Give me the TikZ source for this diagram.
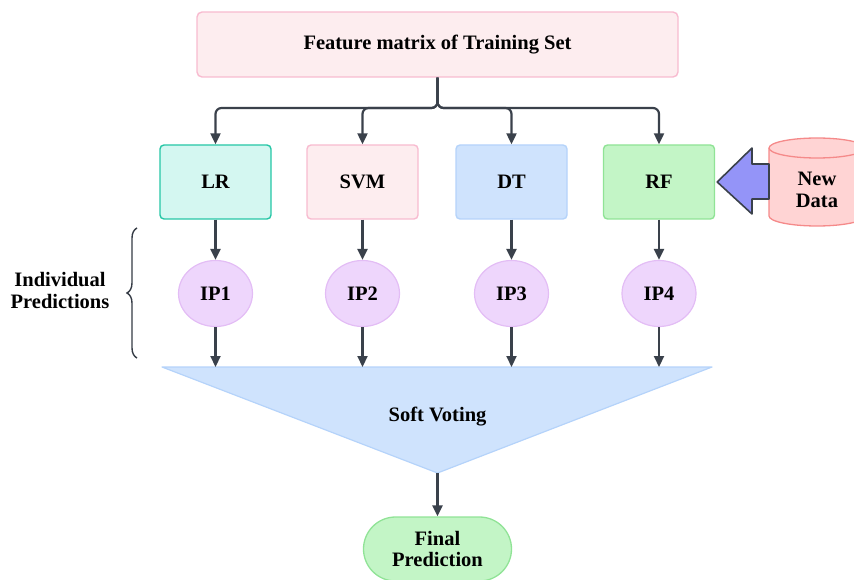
\documentclass[tikz,border=0pt]{standalone}
\usepackage{fontspec}
\setmainfont{Liberation Serif}
\usetikzlibrary{arrows.meta,shapes.geometric,decorations.pathreplacing}

\definecolor{pinkfill}{HTML}{FDEDEF}
\definecolor{pinkline}{HTML}{F8BBD0}
\definecolor{tealfill}{HTML}{D4F7F1}
\definecolor{tealline}{HTML}{26C6A6}
\definecolor{bluefill}{HTML}{CFE3FD}
\definecolor{blueline}{HTML}{B5D3FA}
\definecolor{greenfill}{HTML}{C3F5C6}
\definecolor{greenline}{HTML}{90E396}
\definecolor{lavfill}{HTML}{EED6FC}
\definecolor{lavline}{HTML}{E3BDF5}
\definecolor{cylfill}{HTML}{FFD4D4}
\definecolor{cylline}{HTML}{F58A8A}
\definecolor{bigarrow}{HTML}{9494F8}
\definecolor{ink}{HTML}{3A414B}

\tikzset{
  lbl/.style={font=\bfseries\fontsize{20.5}{21.5}\selectfont, text=black, align=center},
  model/.style={lbl, rectangle, rounded corners=4pt, line width=1.4pt,
                minimum width=111pt, minimum height=74pt},
  pred/.style={lbl, ellipse, line width=1.2pt, fill=lavfill, draw=lavline,
               inner sep=0pt, minimum width=74pt, minimum height=66pt},
  arr/.style={draw=ink, line width=2.2pt,
              -{Triangle[length=11pt,width=10pt]}},
}

\begin{document}
\begin{tikzpicture}[x=1pt,y=-1pt]
\useasboundingbox (0,0) rectangle (854,580);

% training data
\node[lbl, rectangle, rounded corners=5pt, line width=1.4pt, fill=pinkfill, draw=pinkline,
      minimum width=481pt, minimum height=65pt] (top) at (437.5,44.5) {Feature matrix of Training Set};

% base models
\node[model, fill=tealfill,  draw=tealline]  (lr)  at (215.5,182) {LR};
\node[model, fill=pinkfill,  draw=pinkline]  (svm) at (362.5,182) {SVM};
\node[model, fill=bluefill,  draw=blueline]  (dt)  at (511.5,182) {DT};
\node[model, fill=greenfill, draw=greenline] (rf)  at (659,182) {RF};

\coordinate (split) at (437.5,108);
\foreach \m in {lr,svm,dt,rf}
  \draw[arr, rounded corners=6pt] (top.south) -- (split) -| (\m.north);

% individual predictions
\node[pred] (ip1) at (215.5,293.5) {IP1};
\node[pred] (ip2) at (362.5,293.5) {IP2};
\node[pred] (ip3) at (511.5,293.5) {IP3};
\node[pred] (ip4) at (659,293.5) {IP4};

\draw[arr] (lr.south) -- (ip1.north);
\draw[arr] (svm.south) -- (ip2.north);
\draw[arr] (dt.south) -- (ip3.north);
\draw[arr] (rf.south) -- (ip4.north);

% soft voting funnel
\coordinate (tl) at (162,367);
\coordinate (tr) at (712,367);
\coordinate (apex) at (437.5,473);
\draw[fill=bluefill, draw=blueline, line width=1.2pt, line join=round] (tl) -- (tr) -- (apex) -- cycle;
\node[lbl] (vote) at (437.5,417) {Soft Voting};

\coordinate (v1) at (ip1.south |- tl);
\coordinate (v2) at (ip2.south |- tl);
\coordinate (v3) at (ip3.south |- tl);
\coordinate (v4) at (ip4.south |- tl);
\draw[arr] (ip1.south) -- (v1);
\draw[arr] (ip2.south) -- (v2);
\draw[arr] (ip3.south) -- (v3);
\draw[arr] (ip4.south) -- (v4);

% final output
\node[lbl, rectangle, rounded corners=32pt, line width=1.3pt, fill=greenfill, draw=greenline,
      minimum width=148pt, minimum height=64pt] (final) at (437.5,549) {Final\\Prediction};
\draw[arr] (apex) -- (final.north);

% new data store
\draw[fill=cylfill, draw=cylline, line width=1.3pt]
  (769,148) -- (769,216) arc[start angle=180, end angle=360, x radius=48pt, y radius=10pt]
  -- (865,148) arc[start angle=0, end angle=180, x radius=48pt, y radius=10pt] -- cycle;
\draw[draw=cylline, line width=1.3pt]
  (769,148) arc[start angle=180, end angle=360, x radius=48pt, y radius=10pt];
\node[lbl] (newdata) at (817,190) {New\\Data};

% block arrow feeding new data into RF
\draw[fill=bigarrow, draw=ink, line width=1.6pt, line join=round]
  ([xshift=2pt]rf.east) -- (752,148) -- (752,164) -- (769,164)
  -- (769,199) -- (752,199) -- (752,214) -- cycle;

% brace around predictions
\draw[ink!90!black, line width=1.4pt, decorate,
      decoration={brace, amplitude=10pt}] (137,358) -- (137,228);
\node[lbl] (indiv) at (60,290.5) {Individual\\Predictions};

\end{tikzpicture}
\end{document}
